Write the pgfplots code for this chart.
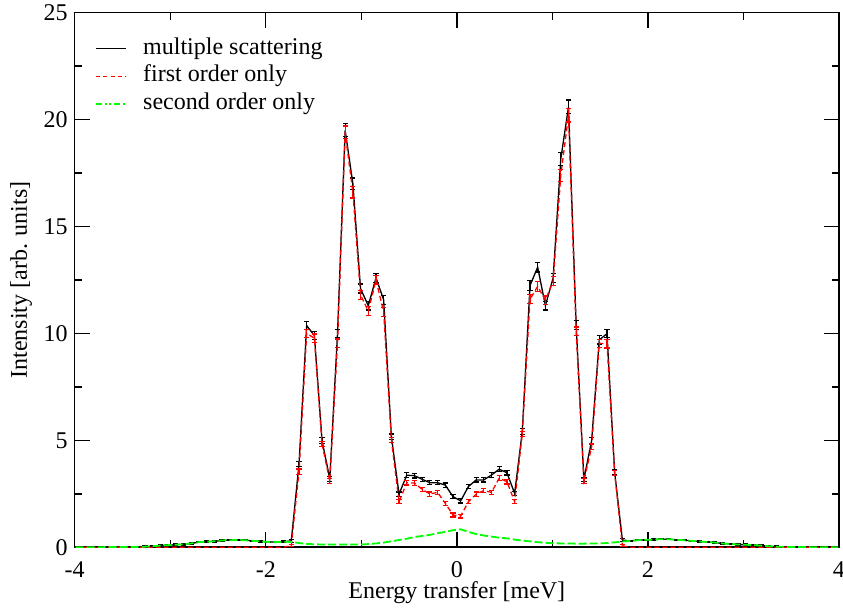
\documentclass[border=0pt]{standalone}
\usepackage{fontspec}
\setmainfont{Liberation Serif}
\usepackage{pgfplots}
\usepackage{pgfplotstable}
\pgfplotsset{compat=1.18}
\definecolor{msred}{rgb}{1,0,0}
\definecolor{msgreen}{rgb}{0,1,0}

% multiple scattering: energy, intensity, error
\pgfplotstableread{
x y e
-3.990 0.00 0.03
-3.909 0.00 0.03
-3.829 0.00 0.03
-3.748 0.00 0.03
-3.667 0.01 0.03
-3.587 0.01 0.03
-3.506 0.01 0.03
-3.426 0.01 0.03
-3.345 0.02 0.03
-3.264 0.03 0.03
-3.184 0.05 0.03
-3.103 0.08 0.03
-3.023 0.10 0.03
-2.942 0.12 0.03
-2.861 0.14 0.03
-2.781 0.18 0.03
-2.700 0.24 0.03
-2.620 0.26 0.03
-2.539 0.28 0.03
-2.458 0.32 0.03
-2.378 0.33 0.03
-2.297 0.34 0.03
-2.217 0.33 0.03
-2.136 0.30 0.03
-2.055 0.28 0.03
-1.975 0.25 0.03
-1.894 0.24 0.03
-1.814 0.26 0.03
-1.733 0.30 0.06
-1.652 3.90 0.12
-1.572 10.37 0.20
-1.491 9.90 0.19
-1.411 5.00 0.13
-1.330 3.20 0.11
-1.249 10.00 0.19
-1.169 19.50 0.30
-1.088 17.00 0.27
-1.008 12.10 0.21
-0.927 11.30 0.20
-0.846 12.60 0.22
-0.766 11.57 0.21
-0.685 5.17 0.13
-0.605 2.49 0.10
-0.524 3.37 0.11
-0.443 3.35 0.11
-0.363 3.18 0.10
-0.282 3.02 0.10
-0.202 3.02 0.10
-0.121 2.91 0.10
-0.040 2.37 0.10
0.040 2.17 0.10
0.121 2.84 0.10
0.202 3.15 0.10
0.282 3.15 0.10
0.363 3.38 0.11
0.443 3.65 0.11
0.524 3.49 0.11
0.605 2.52 0.10
0.685 5.41 0.13
0.766 12.24 0.22
0.846 13.10 0.23
0.927 11.30 0.20
1.008 12.60 0.22
1.088 18.16 0.29
1.169 20.60 0.32
1.249 10.40 0.20
1.330 3.18 0.10
1.411 4.99 0.13
1.491 9.70 0.19
1.572 9.99 0.19
1.652 3.50 0.11
1.733 0.34 0.06
1.814 0.30 0.03
1.894 0.33 0.03
1.975 0.35 0.03
2.055 0.36 0.03
2.136 0.38 0.03
2.217 0.38 0.03
2.297 0.35 0.03
2.378 0.33 0.03
2.458 0.30 0.03
2.539 0.27 0.03
2.620 0.25 0.03
2.700 0.22 0.03
2.781 0.18 0.03
2.861 0.15 0.03
2.942 0.13 0.03
3.023 0.12 0.03
3.103 0.10 0.03
3.184 0.08 0.03
3.264 0.05 0.03
3.345 0.03 0.03
3.426 0.02 0.03
3.506 0.01 0.03
3.587 0.01 0.03
3.667 0.01 0.03
3.748 0.00 0.03
3.829 0.00 0.03
3.909 0.00 0.03
3.990 0.00 0.03
}\multiple

% first order only, inside the band
\pgfplotstableread{
x y e
-1.733 0.08 0.05
-1.652 3.54 0.12
-1.572 10.00 0.20
-1.491 9.78 0.19
-1.411 4.83 0.13
-1.330 3.10 0.11
-1.249 9.55 0.19
-1.169 19.40 0.30
-1.088 16.60 0.27
-1.008 11.80 0.21
-0.927 11.05 0.20
-0.846 12.50 0.22
-0.766 11.00 0.21
-0.685 5.02 0.13
-0.605 2.13 0.10
-0.524 3.02 0.11
-0.443 3.00 0.11
-0.363 2.71 0.10
-0.282 2.49 0.10
-0.202 2.57 0.10
-0.121 2.06 0.10
-0.040 1.51 0.09
0.040 1.46 0.09
0.121 2.13 0.10
0.202 2.49 0.10
0.282 2.65 0.10
0.363 2.57 0.10
0.443 3.23 0.11
0.524 3.07 0.11
0.605 2.13 0.10
0.685 5.30 0.13
0.766 11.60 0.21
0.846 12.20 0.22
0.927 11.55 0.20
1.008 12.45 0.22
1.088 17.40 0.28
1.169 20.20 0.31
1.249 10.10 0.20
1.330 3.10 0.10
1.411 4.70 0.13
1.491 9.54 0.19
1.572 9.51 0.19
1.652 3.47 0.11
1.733 0.07 0.05
}\firstorder

% first order only, outside the band
\pgfplotstableread{
x y
-3.990 0.00
-1.814 0.00
-1.733 0.08
}\firstleft
\pgfplotstableread{
x y
1.733 0.07
1.814 0.00
3.990 0.00
}\firstright

% second order only
\pgfplotstableread{
x y
-3.990 0.00
-3.909 0.00
-3.829 0.00
-3.748 0.00
-3.667 0.01
-3.587 0.01
-3.506 0.01
-3.426 0.01
-3.345 0.02
-3.264 0.03
-3.184 0.05
-3.103 0.08
-3.023 0.10
-2.942 0.12
-2.861 0.14
-2.781 0.18
-2.700 0.24
-2.620 0.26
-2.539 0.28
-2.458 0.32
-2.378 0.33
-2.297 0.34
-2.217 0.33
-2.136 0.30
-2.055 0.28
-1.975 0.25
-1.894 0.24
-1.814 0.26
-1.733 0.25
-1.652 0.20
-1.572 0.16
-1.491 0.14
-1.411 0.13
-1.330 0.13
-1.249 0.13
-1.169 0.13
-1.088 0.13
-1.008 0.13
-0.927 0.15
-0.846 0.18
-0.766 0.22
-0.685 0.28
-0.605 0.34
-0.524 0.40
-0.443 0.48
-0.363 0.53
-0.282 0.58
-0.202 0.66
-0.121 0.72
-0.040 0.80
0.040 0.84
0.121 0.72
0.202 0.62
0.282 0.55
0.363 0.50
0.443 0.45
0.524 0.42
0.605 0.36
0.685 0.31
0.766 0.28
0.846 0.24
0.927 0.21
1.008 0.19
1.088 0.18
1.169 0.18
1.249 0.17
1.330 0.17
1.411 0.18
1.491 0.18
1.572 0.20
1.652 0.23
1.733 0.27
1.814 0.30
1.894 0.33
1.975 0.35
2.055 0.36
2.136 0.38
2.217 0.38
2.297 0.35
2.378 0.33
2.458 0.30
2.539 0.27
2.620 0.25
2.700 0.22
2.781 0.18
2.861 0.15
2.942 0.13
3.023 0.12
3.103 0.10
3.184 0.08
3.264 0.05
3.345 0.03
3.426 0.02
3.506 0.01
3.587 0.01
3.667 0.01
3.748 0.00
3.829 0.00
3.909 0.00
3.990 0.00
}\secondorder

\begin{document}
\begin{tikzpicture}
\begin{axis}[
  at={(0,0)}, anchor=south west,
  scale only axis, width=382.15pt, height=267.3pt,
  xmin=-4, xmax=4, ymin=0, ymax=25,
  xtick={-4,-2,0,2,4}, xticklabels={-4,-2,0,2,4},
  ytick={0,5,10,15,20,25}, yticklabels={0,5,10,15,20,25},
  minor x tick num=1, minor y tick num=1,
  tick pos=both, tick align=inside,
  major tick length=7.5pt, minor tick length=3.5pt,
  every tick/.style={black, line width=0.7pt},
  axis line style={line width=0.8pt},
  tick label style={font=\fontsize{12}{14.4}\selectfont},
  xticklabel style={inner sep=1pt, yshift=-6pt, text depth=0pt},
  label style={font=\fontsize{12}{14.4}\selectfont, inner sep=1pt},
  xlabel={Energy transfer [meV]},
  ylabel={Intensity [arb. units]},
  xlabel style={at={([yshift=-25.8pt]axis description cs:0.5,0)}, anchor=base},
  ylabel style={at={([xshift=-23.9pt]axis description cs:0,0.5)}, anchor=base},
  legend style={at={(rel axis cs:0,1)}, anchor=north west,
    xshift=10.15pt, yshift=-11pt, draw=none, fill=none, inner sep=0pt,
    row sep=0.3pt, column sep=6.5pt,
    font=\fontsize{12}{14.4}\selectfont,
    nodes={inner sep=1.5pt, text height=8pt, text depth=2.5pt}},
  legend cell align=left,
  legend image code/.code={\draw[#1] (0pt,0pt) -- (15pt,0pt);},
]
% legend samples
\addlegendimage{black, line width=0.6pt}
\addlegendentry{multiple scattering}
\addlegendimage{msred, line width=0.6pt, dash pattern=on 2pt off 1.6pt}
\addlegendentry{first order only}
\addlegendimage{msgreen, line width=0.9pt,
  dash pattern=on 3pt off 1.3pt on 1pt off 1.3pt on 1pt off 1.3pt}
\addlegendentry{second order only}

% multiple scattering
\addplot[black, line width=0.65pt, forget plot,
  error bars/.cd, y dir=both, y explicit,
  error bar style={black, line width=0.6pt},
  error mark options={black, line width=0.6pt, mark size=1.3pt, rotate=90}]
  table[x=x, y=y, y error=e]{\multiple};

% first order only
\addplot[msred, line width=0.65pt, dash pattern=on 2.5pt off 1.5pt, forget plot,
  error bars/.cd, y dir=both, y explicit,
  error bar style={msred, solid, line width=0.6pt},
  error mark options={msred, solid, line width=0.6pt, mark size=1.3pt, rotate=90}]
  table[x=x, y=y, y error=e]{\firstorder};
\addplot[msred, line width=0.65pt, dash pattern=on 2.5pt off 1.5pt, forget plot]
  table[x=x, y=y]{\firstleft};
\addplot[msred, line width=0.65pt, dash pattern=on 2.5pt off 1.5pt, forget plot]
  table[x=x, y=y]{\firstright};

% second order only
\addplot[msgreen, line width=0.9pt, dash pattern=on 4pt off 1.5pt, forget plot]
  table[x=x, y=y]{\secondorder};
\end{axis}
\pgfresetboundingbox
\path[use as bounding box] (-37.35pt,-31.35pt) rectangle (384.15pt,273.65pt);
\end{tikzpicture}
\end{document}
